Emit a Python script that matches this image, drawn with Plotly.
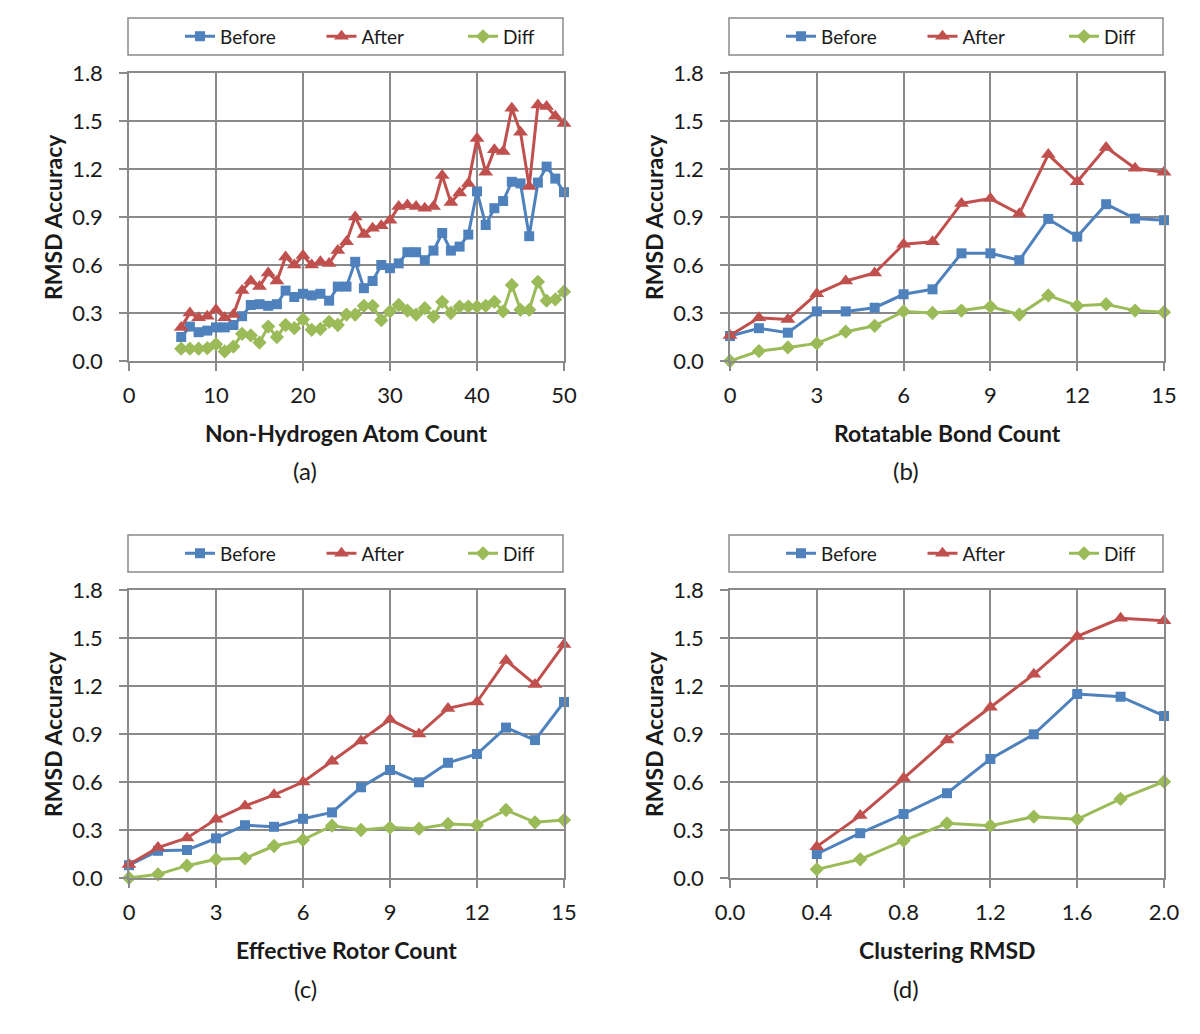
import plotly.graph_objects as go

# ---------------- data ----------------
# (a) Non-Hydrogen Atom Count
a_x = list(range(6, 51))
a_before = [0.15, 0.215, 0.18, 0.19, 0.21, 0.21, 0.225, 0.28, 0.35, 0.355, 0.345, 0.355, 0.44, 0.40, 0.42,
            0.41, 0.42, 0.377, 0.465, 0.465, 0.62, 0.455, 0.50, 0.60, 0.58, 0.61, 0.68, 0.68, 0.63, 0.69,
            0.80, 0.69, 0.715, 0.79, 1.06, 0.85, 0.955, 1.00, 1.12, 1.11, 0.78, 1.115, 1.215, 1.14, 1.055]
a_after = [0.21, 0.30, 0.27, 0.28, 0.32, 0.27, 0.29, 0.44, 0.50, 0.465, 0.55, 0.50, 0.65, 0.60, 0.66,
           0.60, 0.62, 0.61, 0.69, 0.745, 0.90, 0.79, 0.83, 0.845, 0.88, 0.965, 0.975, 0.965, 0.955, 0.965,
           1.16, 0.99, 1.05, 1.11, 1.39, 1.18, 1.32, 1.31, 1.58, 1.43, 1.09, 1.60, 1.59, 1.53, 1.485]
a_diff = [0.077, 0.077, 0.077, 0.08, 0.105, 0.06, 0.09, 0.17, 0.16, 0.115, 0.215, 0.15, 0.225, 0.205, 0.26,
          0.195, 0.20, 0.245, 0.225, 0.29, 0.29, 0.345, 0.345, 0.255, 0.31, 0.35, 0.315, 0.29, 0.33, 0.277,
          0.37, 0.30, 0.34, 0.34, 0.34, 0.345, 0.37, 0.31, 0.475, 0.32, 0.32, 0.495, 0.377, 0.385, 0.433]

# (b) Rotatable Bond Count
b_x = list(range(0, 16))
b_before = [0.156, 0.205, 0.177, 0.31, 0.31, 0.333, 0.417, 0.448, 0.673, 0.673, 0.63, 0.888, 0.777, 0.98, 0.89, 0.88]
b_after = [0.16, 0.27, 0.26, 0.42, 0.50, 0.55, 0.73, 0.745, 0.985, 1.015, 0.92, 1.29, 1.12, 1.335, 1.205, 1.18]
b_diff = [0.0, 0.062, 0.085, 0.11, 0.183, 0.22, 0.31, 0.30, 0.315, 0.34, 0.29, 0.41, 0.345, 0.355, 0.315, 0.305]

# (c) Effective Rotor Count
c_x = list(range(0, 16))
c_before = [0.08, 0.17, 0.175, 0.248, 0.33, 0.32, 0.37, 0.41, 0.567, 0.675, 0.598, 0.72, 0.775, 0.94, 0.862, 1.10]
c_after = [0.085, 0.19, 0.25, 0.367, 0.45, 0.52, 0.60, 0.73, 0.856, 0.99, 0.90, 1.06, 1.10, 1.36, 1.21, 1.46]
c_diff = [0.0, 0.023, 0.077, 0.117, 0.123, 0.20, 0.238, 0.327, 0.30, 0.315, 0.308, 0.338, 0.331, 0.425, 0.348, 0.362]

# (d) Clustering RMSD
d_x = [0.4, 0.6, 0.8, 1.0, 1.2, 1.4, 1.6, 1.8, 2.0]
d_before = [0.15, 0.28, 0.40, 0.53, 0.744, 0.898, 1.15, 1.133, 1.0125]
d_after = [0.196, 0.39, 0.623, 0.8625, 1.067, 1.273, 1.51, 1.623, 1.608]
d_diff = [0.054, 0.117, 0.233, 0.342, 0.327, 0.383, 0.367, 0.494, 0.602]

series_names = ["Before", "After", "Diff"]
x_titles = ["Non-Hydrogen Atom Count", "Rotatable Bond Count", "Effective Rotor Count", "Clustering RMSD"]
captions = ["(a)", "(b)", "(c)", "(d)"]
y_title = "RMSD Accuracy"

# ---------------- styling ----------------
OFF = 8                      # default page body margin
W, H = 1200 - OFF, 1034 - OFF
FONT = "Lato, 'Open Sans', sans-serif"
COLORS = ["#4F81BD", "#C0504D", "#9BBB59"]
SYMBOLS = ["square", "triangle-up", "diamond"]
MSIZES = [10, 13, 11]
GRID = "#8a8a8a"

def px_x(v):
    return (v - OFF) / W

def px_y(v):
    return 1 - (v - OFF) / H

# plot-area pixel boxes (screen coords): (left, right, top, bottom)
boxes = [(129, 564, 73, 361), (730, 1164, 73, 361), (129, 564, 590, 878), (730, 1164, 590, 878)]
panels = [
    (a_x, [a_before, a_after, a_diff], [0, 50], 10, "d"),
    (b_x, [b_before, b_after, b_diff], [0, 15], 3, "d"),
    (c_x, [c_before, c_after, c_diff], [0, 15], 3, "d"),
    (d_x, [d_before, d_after, d_diff], [0, 2.0], 0.4, ".1f"),
]

fig = go.Figure()
layout = dict(
    template="none",
    width=W, height=H, autosize=False,
    margin=dict(l=0, r=0, t=0, b=0, pad=0, autoexpand=False),
    paper_bgcolor="white", plot_bgcolor="white",
    font=dict(family=FONT, color="#1a1a1a", size=20),
    shapes=[], annotations=[],
)

for i, ((xs, ys_list, xr, dt, fmt), (l, r, t, b)) in enumerate(zip(panels, boxes)):
    n = "" if i == 0 else str(i + 1)
    leg = "legend" + n
    for j, ys in enumerate(ys_list):
        fig.add_trace(go.Scatter(
            x=xs, y=ys, mode="lines+markers", name=series_names[j],
            line=dict(color=COLORS[j], width=3),
            marker=dict(symbol=SYMBOLS[j], size=MSIZES[j], color=COLORS[j]),
            xaxis="x" + n, yaxis="y" + n, legend=leg, cliponaxis=False,
        ))
    common = dict(
        showgrid=True, gridcolor=GRID, gridwidth=1.5,
        showline=True, linecolor=GRID, linewidth=1.5, mirror=True,
        ticks="outside", ticklen=8, tickcolor=GRID, tickwidth=1.5,
        zeroline=False, tickfont=dict(size=22, color="#1a1a1a"),
        fixedrange=True, automargin=False,
    )
    layout["xaxis" + n] = dict(
        domain=[px_x(l), px_x(r)], range=xr, dtick=dt, tick0=0, tickformat=fmt,
        anchor="y" + n, ticklabelstandoff=6, **common,
    )
    layout["yaxis" + n] = dict(
        domain=[px_y(b), px_y(t)], range=[0, 1.8], dtick=0.3, tick0=0, tickformat=".1f",
        anchor="x" + n, ticklabelstandoff=12, **common,
    )
    # legend box
    lx0, lx1, ly0, ly1 = l - 1, r - 1, t - 55, t - 18
    layout["shapes"].append(dict(
        type="rect", xref="paper", yref="paper",
        x0=px_x(lx0), x1=px_x(lx1), y0=px_y(ly1), y1=px_y(ly0),
        line=dict(color="#8a8a8a", width=1.5), fillcolor="rgba(0,0,0,0)",
    ))
    layout[leg] = dict(
        orientation="h", x=px_x(lx0 + 52), y=px_y((ly0 + ly1) / 2),
        xanchor="left", yanchor="middle", bgcolor="rgba(0,0,0,0)",
        borderwidth=0, font=dict(size=19, family=FONT, color="#1a1a1a"), entrywidth=96.5,
        itemclick=False, itemdoubleclick=False,
    )
    cx = (l + r) / 2
    # x title
    layout["annotations"].append(dict(
        text="<b>%s</b>" % x_titles[i], xref="paper", yref="paper",
        x=px_x(cx), y=px_y(b + 72), xanchor="center", yanchor="middle",
        showarrow=False, font=dict(size=23, family=FONT, color="#1a1a1a"),
    ))
    # y title
    layout["annotations"].append(dict(
        text="<b>%s</b>" % y_title, xref="paper", yref="paper",
        x=px_x(l - 76), y=px_y((t + b) / 2), xanchor="center", yanchor="middle",
        textangle=-90, showarrow=False, font=dict(size=23, family=FONT, color="#1a1a1a"),
    ))
    # caption
    layout["annotations"].append(dict(
        text=captions[i], xref="paper", yref="paper",
        x=px_x(l + 176), y=px_y(b + 110), xanchor="center", yanchor="middle",
        showarrow=False, font=dict(size=24, family=FONT, color="#1a1a1a"),
    ))

fig.update_layout(**layout)
fig.write_html("out.html")
